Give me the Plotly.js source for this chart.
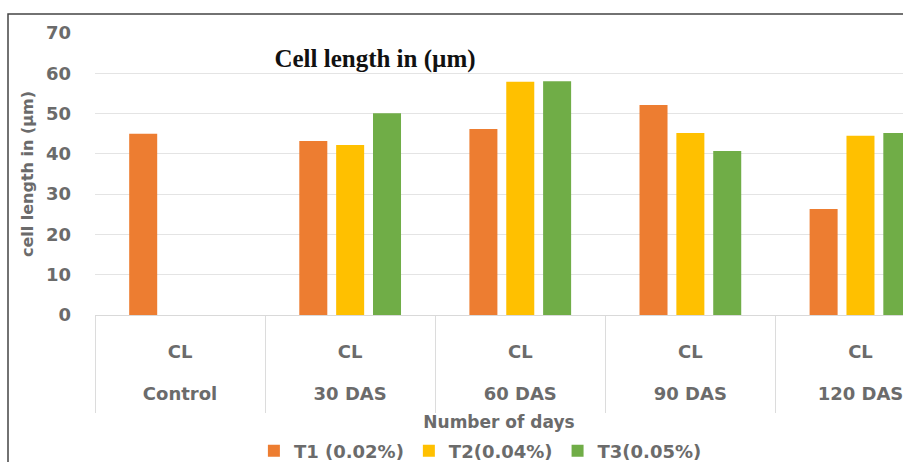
<!DOCTYPE html>
<html>
<head>
<meta charset="utf-8">
<script src="https://cdn.plot.ly/plotly-3.0.1.min.js"></script>
<style>html,body{margin:0;padding:0;background:#fff;}#chart{width:903px;height:462px;}</style>
</head>
<body>
<div id="chart"></div>
<script>
var groups = ["Control", "30 DAS", "60 DAS", "90 DAS", "120 DAS"];
var inner = ["CL", "CL", "CL", "CL", "CL"];
var seriesNames = ["T1 (0.02%)", "T2(0.04%)", "T3(0.05%)"];
var t1 = [45, 43.2, 46.2, 52.1, 26.3];
var t2 = [null, 42.2, 57.9, 45.2, 44.5];
var t3 = [null, 50.1, 58.0, 40.7, 45.2];
var colors = ["#ED7D31", "#FFC000", "#70AD47"];
var yTicks = [0, 10, 20, 30, 40, 50, 60, 70];

var font = "'DejaVu Sans', sans-serif";
var gray = "#6b6b6b";
var groupIdx = groups.map(function (g, i) { return i; });
var boundaries = groups.slice(0, -1).map(function (g, i) { return i - 0.5; }).concat([groups.length - 1.5]);
var xr = [-0.5, 4.25];

var data = [t1, t2, t3].map(function (vals, i) {
  return {
    type: "bar",
    name: seriesNames[i],
    x: groups,
    y: vals,
    marker: {color: colors[i]},
    hoverinfo: "y"
  };
});
// invisible helper traces so the overlaid label / divider axes are drawn
["x2", "x3"].forEach(function (ax) {
  data.push({type: "scatter", mode: "markers", xaxis: ax, yaxis: "y",
             x: groupIdx, y: t1, marker: {opacity: 0}, showlegend: false, hoverinfo: "skip"});
});

var layout = {
  width: 903, height: 462,
  margin: {l: 95, r: 0, t: 33, b: 147},
  paper_bgcolor: "#fff", plot_bgcolor: "#fff",
  barmode: "group", bargap: 0.35, bargroupgap: 0.24,
  showlegend: true,
  legend: {orientation: "h", x: 0.532, xanchor: "center", xref: "container",
           y: 1 - 451/462, yref: "container", yanchor: "middle",
           font: {family: font, size: 18, color: gray, weight: "bold"},
           itemwidth: 30, tracegroupgap: 0, traceorder: "normal"},
  title: {text: "<b>Cell length in (µm)</b>", xref: "container", yref: "container",
          x: 375/903, xanchor: "center", y: 1 - 58/462, yanchor: "middle",
          font: {family: "'Liberation Serif', 'DejaVu Serif', serif", size: 25, color: "#111"}},
  xaxis: {
    type: "category", range: xr,
    tickvals: groups, ticktext: inner,
    showgrid: false,
    showline: true, linecolor: "#d9d9d9", linewidth: 1,
    ticks: "", ticklabelstandoff: 20, ticklabeloverflow: "allow",
    tickfont: {family: font, size: 18, color: gray, weight: "bold"},
    automargin: false, fixedrange: true
  },
  xaxis2: {
    type: "linear", overlaying: "x", anchor: "y", side: "bottom", range: xr,
    tickvals: groupIdx, ticktext: groups,
    showgrid: false, zeroline: false, showline: false, ticks: "",
    ticklabelstandoff: 66, ticklabeloverflow: "allow",
    tickfont: {family: font, size: 18, color: gray, weight: "bold"},
    automargin: false, fixedrange: true
  },
  xaxis3: {
    type: "linear", overlaying: "x", anchor: "y", side: "bottom", range: xr,
    tickvals: boundaries, showticklabels: false,
    showgrid: false, zeroline: false, showline: false,
    ticks: "outside", ticklen: 97, tickwidth: 1, tickcolor: "#dcdcdc",
    title: {text: "Number of days", font: {family: font, size: 17, color: gray, weight: "bold"}, standoff: 4},
    automargin: false, fixedrange: true
  },
  yaxis: {
    range: [0, 70], tickvals: yTicks, ticktext: yTicks.map(String),
    showgrid: true, gridcolor: "#e4e4e4", gridwidth: 1,
    zeroline: false, showline: false, ticks: "",
    ticklabelstandoff: 23,
    tickfont: {family: font, size: 18, color: gray, weight: "bold"},
    title: {text: "cell length in (µm)", font: {family: font, size: 16, color: gray, weight: "bold"}, standoff: 8},
    automargin: false, fixedrange: true
  },
  shapes: [{
    type: "rect", xref: "paper", yref: "paper",
    x0: (8 - 95) / 808, x1: 1.3, y0: -1, y1: (315 - 14) / 282,
    line: {color: "#444", width: 1.5}, fillcolor: "rgba(0,0,0,0)", layer: "above"
  }]
};

Plotly.newPlot("chart", data, layout, {displayModeBar: false, staticPlot: true});
</script>
</body>
</html>
